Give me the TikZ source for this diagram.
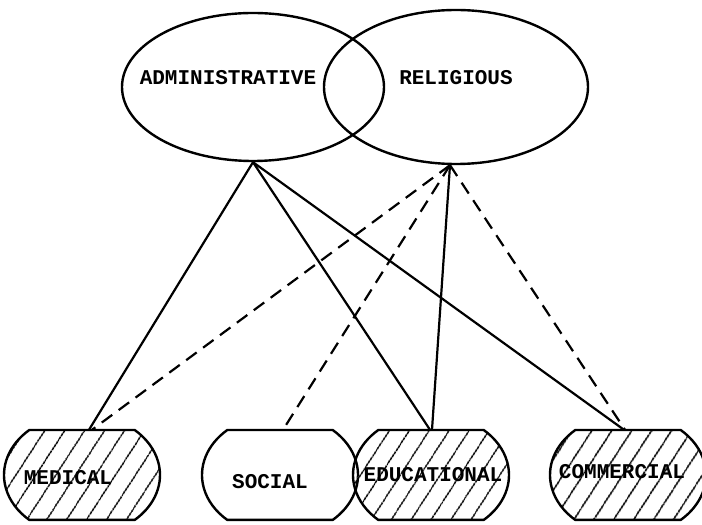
\documentclass[tikz,border=0pt]{standalone}
\usepackage{fontspec}
\newfontfamily\typefont{Liberation Mono}
\usetikzlibrary{shapes,arrows,positioning,patterns.meta}

\begin{document}
\begin{tikzpicture}[x=1pt, y=1pt, auto]

  % Define styles for areas and units
  \tikzstyle{zone} = [ellipse, draw, line width=2.4pt, inner sep=0pt]
  \tikzstyle{unit} = [rectangle, minimum width=156pt, minimum height=90pt, inner sep=0pt]
  \tikzstyle{tag} = [font=\typefont\bfseries\fontsize{21}{24}\selectfont, inner sep=0pt]
  \tikzstyle{rim} = [line width=2.4pt, line join=round]
  \tikzstyle{hatched} = [pattern={Lines[angle=57, distance=17pt, line width=1.6pt]}]
  \tikzstyle{link} = [line width=2.2pt]
  \tikzstyle{maybe} = [line width=2.2pt, dash pattern=on 13pt off 8pt]

  \useasboundingbox (0,0) rectangle (702,525);

  % Areas
  \node[zone, minimum width=262pt, minimum height=148pt] (admin) at (253,438) {};
  \node[zone, minimum width=264pt, minimum height=154pt] (relig) at (456,438) {};
  \node[tag] (admintxt) at (228,447) {ADMINISTRATIVE};
  \node[tag] (religtxt) at (456,447) {RELIGIOUS};

  % Units
  \node[unit] (med) at (82,50) {};
  \node[unit] (soc) at (280,50) {};
  \node[unit] (edu) at (431,50) {};
  \node[unit] (com) at (628,50) {};

  \draw[rim, hatched] (med.center) ++(52.7,45) -- ++(-105.4,0) arc[start angle=132.5, end angle=227.5, x radius=78, y radius=61] -- ++(105.4,0) arc[start angle=-47.5, end angle=47.5, x radius=78, y radius=61] -- cycle;
  \draw[rim] (soc.center) ++(52.7,45) -- ++(-105.4,0) arc[start angle=132.5, end angle=227.5, x radius=78, y radius=61] -- ++(105.4,0) arc[start angle=-47.5, end angle=47.5, x radius=78, y radius=61] -- cycle;
  \draw[rim, hatched] (edu.center) ++(52.7,45) -- ++(-105.4,0) arc[start angle=132.5, end angle=227.5, x radius=78, y radius=61] -- ++(105.4,0) arc[start angle=-47.5, end angle=47.5, x radius=78, y radius=61] -- cycle;
  \draw[rim, hatched] (com.center) ++(52.7,45) -- ++(-105.4,0) arc[start angle=132.5, end angle=227.5, x radius=78, y radius=61] -- ++(105.4,0) arc[start angle=-47.5, end angle=47.5, x radius=78, y radius=61] -- cycle;

  \node[tag] (medtxt) at (68,47) {MEDICAL};
  \node[tag] (soctxt) at (270,43) {SOCIAL};
  \node[tag] (edutxt) at (433,50) {EDUCATIONAL};
  \node[tag] (comtxt) at (622,53) {COMMERCIAL};

  % Administrative links
  \draw[link] (admin.south) -- ([xshift=7]med.north);
  \draw[link] (admin.south) -- ([xshift=-1]edu.north);
  \draw[link] (admin.south) -- ([xshift=-4]com.north);

  % Religious links
  \draw[maybe] ([xshift=-6]relig.south) -- ([xshift=10]med.north);
  \draw[maybe] ([xshift=-6]relig.south) -- ([xshift=3]soc.north);
  \draw[link] ([xshift=-6]relig.south) -- ([xshift=1]edu.north);
  \draw[maybe] ([xshift=-6]relig.south) -- ([xshift=-3]com.north);

\end{tikzpicture}
\end{document}
